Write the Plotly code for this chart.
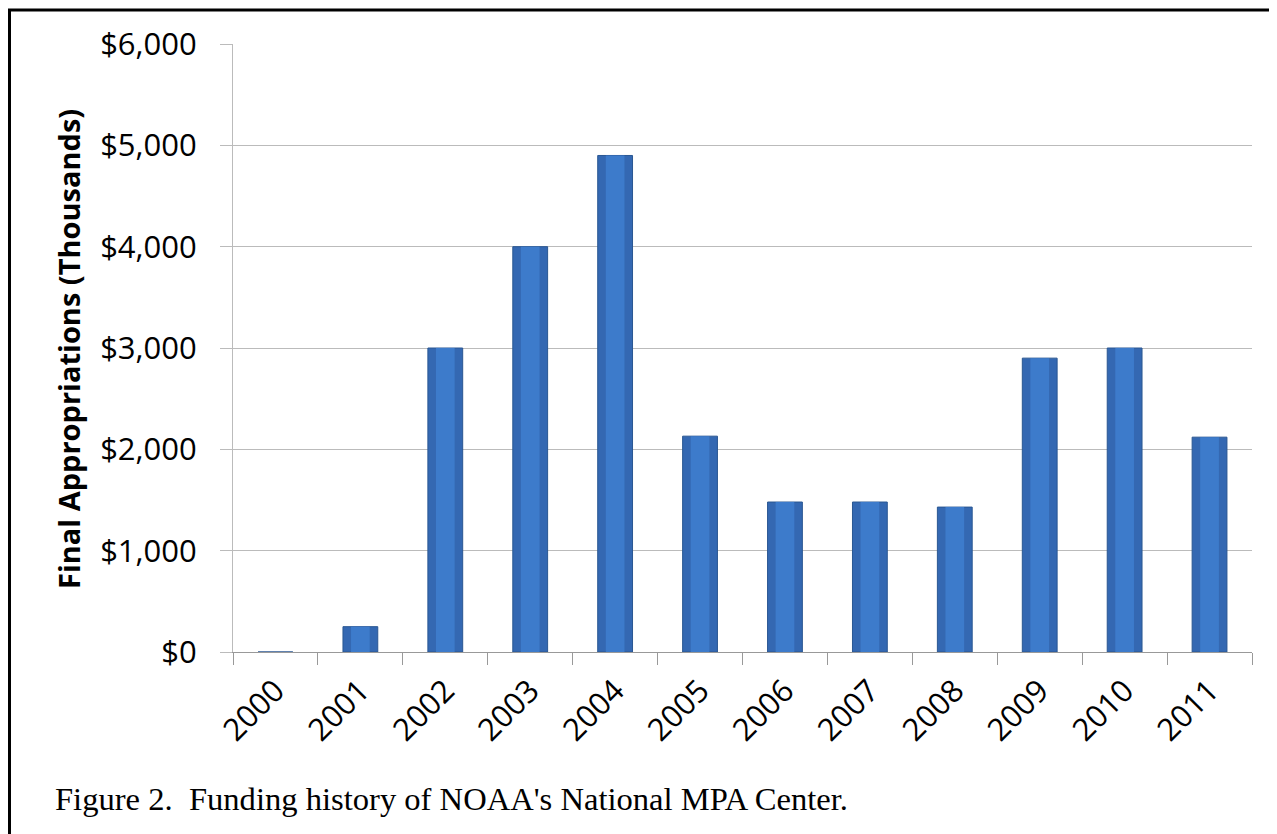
import plotly.graph_objects as go

years = ["2000", "2001", "2002", "2003", "2004", "2005", "2006", "2007", "2008", "2009", "2010", "2011"]
appropriations = [0, 250, 3000, 4000, 4900, 2130, 1480, 1480, 1430, 2900, 3000, 2120]
y_ticks = [0, 1000, 2000, 3000, 4000, 5000, 6000]
y_tick_labels = ["$0", "$1,000", "$2,000", "$3,000", "$4,000", "$5,000", "$6,000"]

W, H = 1277, 834
OFF = 8  # page body margin
# target plot area in screenshot coordinates
X0, X1, Y0, Y1 = 233, 1252, 44, 652
L = X0 - OFF
T = Y0 - OFF
R = W - (X1 - OFF)
B = H - (Y1 - OFF)
pw, ph = X1 - X0, Y1 - Y0


def px(x):
    return (x - X0) / pw


def py(y):
    return (Y1 - y) / ph


fig = go.Figure()
fig.add_trace(go.Bar(
    x=years, y=appropriations, width=0.41,
    marker=dict(color="#3468B2", line=dict(color="#2A5792", width=1)),
    hoverinfo="x+y",
))
fig.add_trace(go.Bar(
    x=years, y=appropriations, width=0.22,
    marker=dict(color="#3D7BCB", line=dict(width=0)),
    hoverinfo="skip",
))

fig.update_layout(
    width=W, height=H,
    margin=dict(l=L, r=R, t=T, b=B),
    paper_bgcolor="white", plot_bgcolor="white",
    barmode="overlay",
    showlegend=False,
    font=dict(family="Open Sans", color="black"),
    xaxis=dict(
        type="category",
        tickangle=-45,
        tickfont=dict(family="Open Sans", size=31, color="black"),
        showline=True, linecolor="#999999", linewidth=1,
        ticks="outside", ticklen=12, tickcolor="#999999",
        tickson="boundaries",
        ticklabelstandoff=7,
        showgrid=False,
    ),
    yaxis=dict(
        range=[0, 6000],
        tickvals=y_ticks, ticktext=y_tick_labels,
        tickfont=dict(family="Open Sans", size=31, color="black"),
        showline=True, linecolor="#bbbbbb", linewidth=1,
        showgrid=True, gridcolor="#bbbbbb", gridwidth=1,
        ticks="outside", ticklen=12, tickcolor="#bbbbbb",
        ticklabelstandoff=17,
        zeroline=False,
    ),
    annotations=[
        dict(
            text="<b>Final Appropriations (Thousands)</b>",
            xref="paper", yref="paper",
            x=px(68), y=py(349), xanchor="center", yanchor="middle",
            textangle=-90, showarrow=False,
            font=dict(family="Open Sans", size=29, color="black"),
        ),
        dict(
            text="Figure 2.  Funding history of NOAA's National MPA Center.",
            xref="paper", yref="paper",
            x=px(53), y=py(799), xanchor="left", yanchor="middle",
            showarrow=False,
            font=dict(family="Liberation Serif", size=32.6, color="black"),
        ),
    ],
    shapes=[
        dict(type="line", xref="paper", yref="paper",
             x0=px(8), x1=px(1290), y0=py(10), y1=py(10),
             line=dict(color="black", width=3)),
        dict(type="line", xref="paper", yref="paper",
             x0=px(9.5), x1=px(9.5), y0=py(10), y1=py(850),
             line=dict(color="black", width=3)),
    ],
)

fig.write_html("out.html")
